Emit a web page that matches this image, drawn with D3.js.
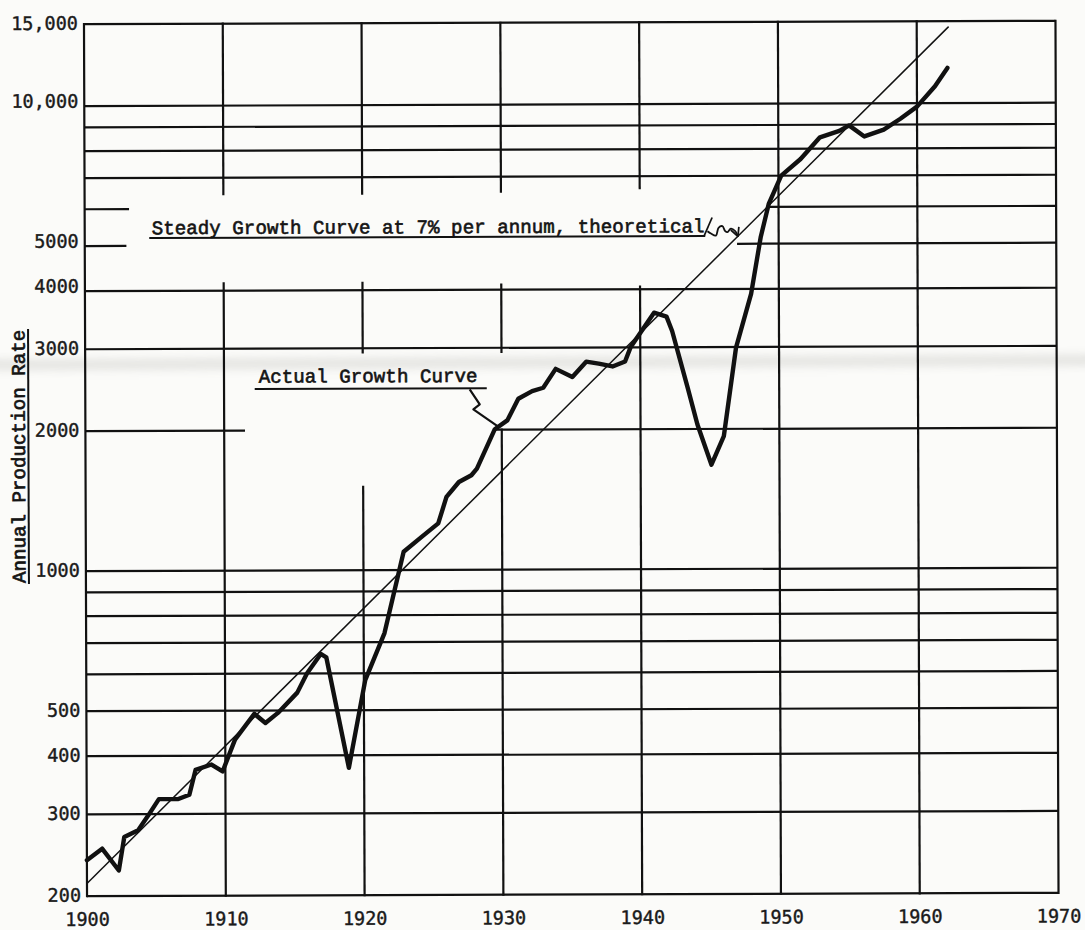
<!DOCTYPE html>
<html>
<head>
<meta charset="utf-8">
<script src="https://cdn.jsdelivr.net/npm/d3@7/dist/d3.min.js"></script>
<style>
  html, body { margin: 0; padding: 0; background: #fbfbf9; }
  svg { display: block; }
</style>
</head>
<body>
<svg id="chart" width="1085" height="930"></svg>
<script>
// ---- Actual annual production ----
const actualYears = [1900, 1901.1, 1902.3, 1902.7, 1903.7, 1904.4, 1905.2, 1906.6, 1907.4, 1907.85,
  1909.0, 1909.8, 1910.7, 1912.1, 1912.9, 1913.8, 1915.2, 1915.9, 1916.9, 1917.3,
  1918.9, 1920.1, 1921.5, 1922.9, 1924.2, 1925.4, 1926.0, 1926.9, 1927.8, 1928.2,
  1929.5, 1930.4, 1931.2, 1932.2, 1933.0, 1933.9, 1935.1, 1936.1, 1937.0, 1938.0,
  1938.9, 1939.3, 1941.0, 1941.9, 1942.3, 1943.4, 1944.1, 1945.1, 1946.0, 1946.9,
  1948.0, 1948.7, 1949.3, 1950.2, 1951.6, 1953.0, 1954.4, 1955.1, 1956.2, 1957.6,
  1958.8, 1960.0, 1961.3, 1962.2];
const actualValues = [239, 253, 227, 268, 277, 297, 323, 323, 330, 373,
  383, 370, 433, 492, 470, 494, 546, 600, 661, 650,
  376, 580, 732, 1095, 1178, 1259, 1435, 1545, 1597, 1650,
  2005, 2094, 2330, 2420, 2460, 2700, 2593, 2797, 2770, 2730,
  2797, 3000, 3560, 3490, 3250, 2459, 2045, 1676, 1930, 2990,
  3900, 5154, 6100, 7000, 7600, 8460, 8730, 8970, 8490, 8780,
  9260, 9830, 10870, 11900];

// ---- Steady 7% growth line (end points) ----
const steadyYears = [1900, 1962.3];
const steadyValues = [213, 14600];

// ---- Axes ----
const yearTicks = [1900, 1910, 1920, 1930, 1940, 1950, 1960, 1970];
const valueTicks = [200, 300, 400, 500, 1000, 2000, 3000, 4000, 5000, 10000, 15000];
const valueTickLabels = ["200", "300", "400", "500", "1000", "2000", "3000", "4000", "5000", "10,000", "15,000"];
const gridValues = [200, 300, 400, 500, 600, 700, 800, 900, 1000, 2000, 3000, 4000, 5000, 6000, 7000, 8000, 9000, 10000, 15000];
const gridYears = [1900, 1910, 1920, 1930, 1940, 1950, 1960, 1970];

// Ruled lines that are only partly drawn (left open around the notes)
const hGridPieces = {
  6000: [[1900, 1903.2], [1949.2, 1970]],
  5000: [[1900, 1903.0], [1947.0, 1970]],
  2000: [[1900, 1911.5], [1929.5, 1970]]
};
const vGridPieces = {
  1910: [[200, 4150], [6450, 15000]],
  1920: [[200, 1510], [2940, 4150], [6450, 15000]],
  1930: [[200, 2000], [2940, 4100], [6500, 15000]],
  1940: [[200, 4050], [6600, 15000]]
};

// ---- Notes ----
const steadyNote = "Steady Growth Curve at 7% per annum, theoretical";
const steadyNoteAt = [1904.83, 5296];
const steadyUnderline = [[1904.65, 5198], [1944.71, 5198]];
const steadySlash = [[1944.64, 5210], [1945.21, 5698]];
const steadyLeader = [[1944.87, 5324], [1945.12, 5264], [1945.48, 5210], [1945.67, 5414], [1945.95, 5458],
  [1946.15, 5324], [1946.31, 5298], [1946.56, 5388], [1946.87, 5324], [1947.04, 5210]];

const actualNote = "Actual Growth Curve";
const actualNoteAt = [1912.5, 2534];
const actualUnderline = [[1912.21, 2456], [1928.93, 2456]];
const actualLeader = [[1927.70, 2444], [1928.42, 2268], [1927.96, 2213], [1929.72, 2034]];

const yTitle = "Annual Production Rate";

// ---- Drawing ----
const W = 1085, H = 930;
const ink = "#111111";
const typeFont = "'Liberation Mono', 'Courier New', monospace";
const tickFont = "'DejaVu Sans Mono', monospace";

const x = d3.scaleLinear().domain([1900, 1970]).range([85.5, 1057]);
const y = d3.scaleLog().domain([200, 15000]).range([894.5, 22.5]);

const svg = d3.select("#chart");
svg.append("rect").attr("width", W).attr("height", H).attr("fill", "#fbfbf9");

const defs = svg.append("defs");
defs.append("filter").attr("id", "soft")
  .attr("x", "-5%").attr("y", "-200%").attr("width", "110%").attr("height", "500%")
  .append("feGaussianBlur").attr("stdDeviation", 4);
defs.append("marker").attr("id", "tip")
  .attr("viewBox", "0 0 10 10").attr("refX", 8).attr("refY", 5)
  .attr("markerWidth", 6).attr("markerHeight", 6).attr("orient", "auto")
  .append("path").attr("d", "M1,1 L9,5 L1,9").attr("fill", "none")
  .attr("stroke", ink).attr("stroke-width", 1.6);

// paper fold running across the sheet
svg.append("rect")
  .attr("x", -20).attr("y", 357).attr("width", W + 40).attr("height", 11)
  .attr("fill", "#cfcfcb").attr("opacity", 0.5)
  .attr("filter", "url(#soft)")
  .attr("transform", "rotate(-0.25 540 362)");

const g = svg.append("g").attr("transform", "rotate(-0.2 571 458)");

// horizontal rulings
const hSegs = [];
gridValues.forEach(v => (hGridPieces[v] || [[1900, 1970]]).forEach(p => hSegs.push({ v, a: p[0], b: p[1] })));
g.append("g").selectAll("line").data(hSegs).join("line")
  .attr("x1", d => x(d.a)).attr("x2", d => x(d.b))
  .attr("y1", d => y(d.v)).attr("y2", d => y(d.v))
  .attr("stroke", ink).attr("stroke-width", 2.2);

// vertical rulings
const vSegs = [];
gridYears.forEach(t => (vGridPieces[t] || [[200, 15000]]).forEach(p => vSegs.push({ t, a: p[0], b: p[1] })));
g.append("g").selectAll("line").data(vSegs).join("line")
  .attr("x1", d => x(d.t)).attr("x2", d => x(d.t))
  .attr("y1", d => y(d.a)).attr("y2", d => y(d.b))
  .attr("stroke", ink).attr("stroke-width", 2.2)
  .attr("stroke-linecap", "square");

// axes (labels only; the rulings above act as the frame)
const yAxis = g.append("g").attr("transform", `translate(${x(1900)},0)`)
  .call(d3.axisLeft(y).tickValues(valueTicks).tickSize(0).tickPadding(6)
    .tickFormat((d, i) => valueTickLabels[i]));
yAxis.select(".domain").remove();
yAxis.selectAll("text")
  .attr("dy", d => (d >= 4000 && d <= 10000) ? 1 : 5)
  .attr("font-family", tickFont).attr("font-size", 18.5)
  .attr("fill", "#1a1a1a").attr("stroke", "#1a1a1a").attr("stroke-width", 0.4);

const xAxis = g.append("g").attr("transform", `translate(0,${y(200)})`)
  .call(d3.axisBottom(x).tickValues(yearTicks).tickSize(0).tickPadding(16.5).tickFormat(d3.format("d")));
xAxis.select(".domain").remove();
xAxis.selectAll("text")
  .attr("font-family", tickFont).attr("font-size", 18.5)
  .attr("fill", "#1a1a1a").attr("stroke", "#1a1a1a").attr("stroke-width", 0.4);

// steady growth line
const line = d3.line().x(d => x(d[0])).y(d => y(d[1]));
g.append("path")
  .datum(steadyYears.map((t, i) => [t, steadyValues[i]]))
  .attr("d", line).attr("fill", "none")
  .attr("stroke", ink).attr("stroke-width", 1.5);

// actual growth curve
g.append("path")
  .datum(actualYears.map((t, i) => [t, actualValues[i]]))
  .attr("d", line).attr("fill", "none")
  .attr("stroke", ink).attr("stroke-width", 4.4)
  .attr("stroke-linejoin", "round").attr("stroke-linecap", "round");

// notes
function note(text, at, under) {
  g.append("text")
    .attr("x", x(at[0])).attr("y", y(at[1]))
    .attr("font-family", typeFont).attr("font-size", 19.2)
    .attr("fill", "#141414").attr("stroke", "#141414").attr("stroke-width", 0.6)
    .text(text);
  g.append("path").datum(under).attr("d", line)
    .attr("stroke", ink).attr("stroke-width", 2).attr("fill", "none");
}
note(steadyNote, steadyNoteAt, steadyUnderline);
note(actualNote, actualNoteAt, actualUnderline);

g.append("path").datum(steadySlash).attr("d", line)
  .attr("stroke", ink).attr("stroke-width", 1.7).attr("fill", "none");
g.append("path").datum(steadyLeader).attr("d", line.curve(d3.curveCatmullRom))
  .attr("stroke", ink).attr("stroke-width", 1.8).attr("fill", "none")
  .attr("marker-end", "url(#tip)");
line.curve(d3.curveLinear);

g.append("path").datum(actualLeader).attr("d", line)
  .attr("stroke", ink).attr("stroke-width", 2.2).attr("fill", "none")
  .attr("stroke-linejoin", "round");

// vertical axis title with its underline
const titleG = g.append("g").attr("transform", "translate(25,454.5) rotate(-90)");
titleG.append("text")
  .attr("text-anchor", "middle")
  .attr("font-family", typeFont).attr("font-size", 19.2)
  .attr("fill", "#141414").attr("stroke", "#141414").attr("stroke-width", 0.7)
  .text(yTitle);
titleG.append("line")
  .attr("x1", -127.5).attr("x2", 127.5).attr("y1", 3.5).attr("y2", 3.5)
  .attr("stroke", ink).attr("stroke-width", 2);
</script>
</body>
</html>
